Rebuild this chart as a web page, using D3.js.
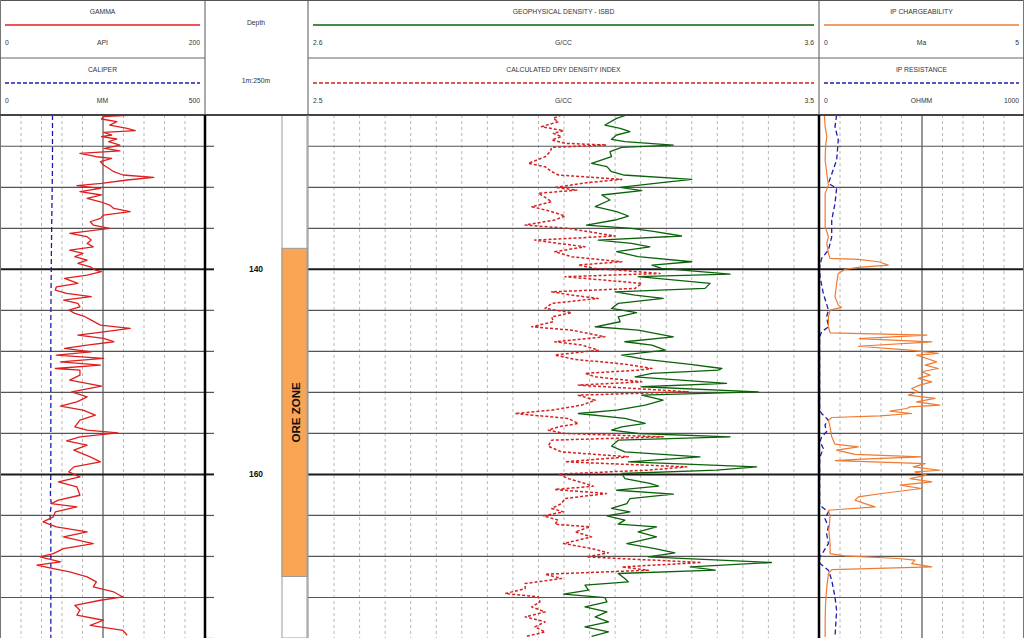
<!DOCTYPE html>
<html><head><meta charset="utf-8">
<script src="https://cdn.jsdelivr.net/npm/d3@7"></script>
<style>
html,body{margin:0;padding:0;background:#fff;}
svg{display:block;font-family:"Liberation Sans",Arial,sans-serif;}
</style></head><body>
<svg id="chart" width="1024" height="638"></svg>
<script>
// ---------------- DATA ----------------
const depthRange = [125, 176];
const gridDepths = [128,132,136,140,144,148,152,156,160,164,168,172,176];
const majorDepths = [140,160];
const oreZone = [138, 170];
const oreLabel = "ORE ZONE";
const depthTitle = "Depth";
const depthScaleLabel = "1m:250m";

const curveTitles = ["GAMMA","CALIPER","GEOPHYSICAL DENSITY - ISBD","CALCULATED DRY DENSITY INDEX","IP CHARGEABILITY","IP RESISTANCE"];
const curveUnits  = ["API","MM","G/CC","G/CC","Ma","OHMM"];
const curveMinLabels = ["0","0","2.6","2.5","0","0"];
const curveMaxLabels = ["200","500","3.6","3.5","5","1000"];
const gammaRange = [0,200], caliperRange = [0,500], isbdRange = [2.6,3.6], dryRange = [2.5,3.5], chargeRange = [0,5], resRange = [0,1000];

const gammaDepth = [125.00,125.16,125.39,125.65,125.98,126.30,126.53,126.69,126.95,127.11,127.34,127.60,127.93,128.25,128.50,128.74,129.07,129.23,129.55,129.88,130.20,130.53,130.85,131.08,131.34,131.67,131.89,132.15,132.48,132.80,133.13,133.46,133.78,134.11,134.43,134.76,135.08,135.41,135.73,136.06,136.54,136.87,137.20,137.52,137.85,138.17,138.50,138.82,139.15,139.47,139.80,140.12,140.28,140.61,140.93,141.42,141.75,142.07,142.40,142.72,143.05,143.37,143.70,144.02,144.35,144.67,145.00,145.49,145.81,146.14,146.46,146.79,147.11,147.44,147.76,148.09,148.41,148.74,149.07,149.39,149.72,149.88,150.37,150.86,151.44,151.99,152.48,152.97,153.39,153.78,154.27,154.76,155.41,155.73,155.99,156.38,156.77,157.20,157.68,158.34,158.82,159.31,159.80,160.29,160.77,161.26,162.08,162.56,162.89,163.21,163.70,164.19,164.68,165.16,165.65,166.14,166.79,167.28,167.77,168.09,168.58,168.90,169.23,169.56,170.04,170.53,171.02,171.51,172.00,172.32,172.81,173.29,173.78,174.27,174.76,175.25,175.73];
const gammaApi = [130,101,99,114,107,124,132,101,109,99,114,106,117,102,117,78,94,109,98,101,106,111,120,150,124,99,75,98,78,99,85,98,107,111,127,101,98,88,91,107,68,85,89,85,91,68,81,73,85,76,88,93,99,85,63,76,55,54,65,89,62,76,78,67,73,83,89,98,127,101,76,101,111,85,63,89,55,101,59,98,54,78,78,68,99,70,85,75,59,81,93,78,73,85,115,78,65,85,72,88,98,72,67,78,57,75,78,57,50,75,54,52,42,55,85,62,91,62,52,39,59,36,52,68,85,94,91,111,120,98,73,78,75,101,88,120,124];

const caliperDepth = [125,130,133,136,140,145,150,155,160,162,163,164,165,168,176];
const caliperMm = [128,128,127,126,125,124,124,124,124,123,125,122,124,124,124];

const isbdDepth = [125.00,125.33,125.98,126.30,126.63,126.95,127.37,127.60,127.93,128.15,128.58,129.07,129.72,130.04,130.53,130.85,131.28,131.67,132.06,132.38,132.80,133.29,133.94,134.43,134.85,135.24,135.73,136.06,136.38,136.80,137.20,137.52,137.85,138.33,138.82,139.31,139.63,139.96,140.51,140.77,141.42,141.91,142.24,142.56,142.89,143.37,143.86,144.28,144.68,145.16,145.65,145.98,146.63,147.11,147.44,147.93,148.41,148.84,149.29,149.72,149.88,150.20,150.53,151.18,151.50,151.99,152.32,152.81,153.29,153.78,154.11,154.59,155.08,155.41,155.73,156.06,156.38,156.71,157.29,157.85,158.33,158.82,159.31,159.63,159.96,160.45,160.93,161.20,161.59,161.98,162.40,162.89,163.37,163.70,164.09,164.51,164.90,165.16,165.65,166.14,166.79,167.28,167.70,168.09,168.64,169.07,169.39,169.71,170.20,170.53,170.85,171.34,171.73,172.06,172.48,172.97,173.46,173.94,174.43,174.92,175.41,175.83];
const isbdGcc = [3.224,3.204,3.181,3.211,3.230,3.204,3.194,3.220,3.315,3.214,3.191,3.194,3.155,3.185,3.194,3.217,3.351,3.279,3.211,3.253,3.175,3.191,3.162,3.204,3.227,3.201,3.145,3.233,3.279,3.331,3.168,3.233,3.269,3.204,3.246,3.351,3.273,3.292,3.426,3.246,3.387,3.377,3.201,3.240,3.295,3.207,3.194,3.243,3.207,3.211,3.162,3.246,3.315,3.220,3.273,3.299,3.214,3.260,3.344,3.410,3.403,3.273,3.240,3.419,3.253,3.481,3.253,3.295,3.260,3.204,3.129,3.220,3.260,3.214,3.194,3.246,3.426,3.207,3.194,3.220,3.367,3.227,3.478,3.400,3.214,3.220,3.269,3.286,3.204,3.315,3.230,3.224,3.194,3.230,3.185,3.220,3.207,3.282,3.246,3.282,3.224,3.279,3.318,3.266,3.507,3.348,3.397,3.207,3.220,3.227,3.142,3.149,3.100,3.181,3.185,3.142,3.185,3.162,3.188,3.142,3.188,3.155];

const dryDepth = [125.00,125.33,125.65,126.14,126.53,126.79,127.11,127.44,127.76,127.93,128.15,128.58,129.07,129.72,130.04,130.53,130.85,131.28,131.60,132.06,132.32,132.64,133.03,133.46,133.94,134.43,134.85,135.24,135.73,136.06,136.38,136.80,137.20,137.52,137.85,138.33,138.82,139.31,139.63,139.96,140.45,140.77,141.42,141.91,142.24,142.56,142.89,143.37,143.86,144.28,144.68,145.16,145.65,145.98,146.63,147.11,147.44,147.93,148.41,148.84,149.29,149.72,149.88,150.20,150.53,151.02,151.34,151.99,152.32,152.81,153.29,153.78,154.11,154.59,155.08,155.41,155.73,156.06,156.38,156.71,157.29,157.85,158.33,158.82,159.31,159.63,160.02,160.45,160.93,161.20,161.52,161.91,162.40,162.89,163.37,163.70,164.09,164.51,164.90,165.16,165.65,166.14,166.79,167.28,167.70,168.09,168.64,169.07,169.39,169.78,170.20,170.69,171.18,171.67,171.99,172.48,172.97,173.46,173.94,174.43,174.92,175.41,175.83];
const dryGcc = [2.996,2.980,2.990,2.957,3.000,2.980,2.996,2.977,3.003,3.084,2.977,2.974,2.964,2.931,2.964,2.977,2.990,3.114,3.045,2.983,3.026,2.951,2.964,2.977,2.938,2.977,3.003,2.983,2.925,3.009,3.049,3.101,2.944,2.990,3.042,2.983,3.016,3.114,3.029,3.062,3.189,3.003,3.153,3.140,2.977,3.016,3.068,2.977,2.964,3.016,2.977,2.980,2.938,3.016,3.081,2.983,3.036,3.068,2.983,3.023,3.120,3.173,3.146,3.042,3.062,3.153,3.029,3.244,3.029,3.062,3.036,2.977,2.905,3.009,3.029,2.990,2.970,3.003,3.195,2.977,2.970,2.996,3.127,3.003,3.241,3.166,2.990,3.009,3.042,3.058,2.983,3.084,3.003,2.996,2.977,3.000,2.961,2.990,2.983,3.052,3.023,3.055,3.000,3.055,3.088,3.045,3.270,3.114,3.166,2.964,2.996,2.925,2.925,2.886,2.951,2.954,2.938,2.964,2.925,2.964,2.944,2.964,2.928];

const chargeDepth = [125.00,126.14,127.11,128.09,129.39,131.02,131.83,132.64,134.27,135.89,136.87,137.52,138.50,138.98,139.08,139.31,139.63,139.86,140.06,140.45,141.42,142.72,143.54,143.76,144.02,144.68,145.65,146.24,146.47,146.80,147.12,147.55,147.93,148.25,148.42,148.74,149.07,149.39,149.72,150.04,150.37,150.69,151.02,151.34,151.67,151.99,152.32,152.64,152.97,153.29,153.46,153.62,153.88,154.11,154.34,154.50,154.76,155.41,156.38,157.10,157.36,157.68,158.10,158.34,158.55,158.70,158.99,159.31,159.64,159.80,160.12,160.45,160.77,161.10,161.42,161.91,162.24,162.56,162.89,163.21,163.54,164.19,165.49,166.79,167.77,167.99,168.25,168.41,168.74,169.07,169.33,169.72,171.02,172.64,174.27,175.90];
const chargeMa = [0.13,0.15,0.19,0.16,0.15,0.20,0.23,0.15,0.15,0.15,0.23,0.19,0.23,0.27,0.96,1.45,1.69,0.96,0.63,0.47,0.43,0.39,0.47,0.55,0.27,0.23,0.23,0.27,2.63,0.98,2.75,0.96,2.22,2.91,2.38,2.63,2.87,2.59,2.91,2.50,2.71,2.42,2.75,2.46,2.26,2.42,2.18,2.83,2.38,2.95,2.22,2.14,1.73,2.26,1.49,0.31,0.23,0.27,0.31,0.39,0.96,0.43,0.88,2.50,1.05,0.40,2.59,2.30,2.95,2.34,2.63,2.22,2.75,1.98,2.50,1.53,0.96,0.88,1.12,1.37,0.23,0.27,0.24,0.27,0.27,0.63,1.93,2.34,2.26,2.75,0.31,0.23,0.19,0.16,0.15,0.15];

const resDepth = [125.00,126.14,127.44,129.39,131.67,132.15,133.62,135.24,136.87,138.17,138.98,139.80,140.77,142.40,144.02,144.68,145.65,146.14,146.63,153.78,154.11,154.76,155.24,155.89,156.38,156.87,157.52,158.33,158.98,162.89,163.21,163.70,164.35,165.16,165.81,166.79,167.60,168.09,168.74,169.39,170.37,172.00,173.29,175.90];
const resOhmm = [86,78,94,86,46,86,78,62,62,46,13,3,5,21,46,37,46,13,3,3,13,46,29,37,13,5,21,5,3,3,13,46,29,46,37,46,21,3,5,46,62,78,86,78];

// ---------------- LAYOUT ----------------
const svg = d3.select("#chart");
const dataTop = 115, dataBottom = 638, headerMid = 58;
const T1 = [0,205], TD = [205,308], T3 = [308,819], T4 = [819,1024];
const yScale = d3.scaleLinear().domain(depthRange).range([dataTop, dataBottom]);

const xGamma = d3.scaleLinear().domain(gammaRange).range(T1);
const xCal = d3.scaleLinear().domain(caliperRange).range(T1);
const xIsbd = d3.scaleLinear().domain(isbdRange).range(T3);
const xDry = d3.scaleLinear().domain(dryRange).range(T3);
const xCharge = d3.scaleLinear().domain(chargeRange).range(T4);
const xRes = d3.scaleLinear().domain(resRange).range(T4);

const RED = "#e01e1e", GREEN = "#0b620b", DRED = "#d42222", ORANGE = "#f07a32", BLUE = "#1c1cae";

const defs = svg.append("defs");
[["c1",T1],["c3",T3],["c4",T4]].forEach(([id,r]) => {
  defs.append("clipPath").attr("id",id).append("rect")
    .attr("x",r[0]).attr("y",dataTop).attr("width",r[1]-r[0]).attr("height",dataBottom-dataTop);
});

// ---------------- GRID ----------------
function vgrid(range, n, solidMid){
  const s = d3.scaleLinear().domain([0,n]).range(range);
  const g = svg.append("g").attr("transform",`translate(0,${dataTop})`)
    .call(d3.axisBottom(s).tickValues(d3.range(1,n)).tickSize(dataBottom-dataTop).tickFormat(""));
  g.select(".domain").remove();
  g.selectAll(".tick line")
    .attr("stroke", d => (solidMid && d===n/2) ? "#333" : "#b8b8b8")
    .attr("stroke-width", 1)
    .attr("stroke-dasharray", d => (solidMid && d===n/2) ? null : "3,3");
}
vgrid(T1,10,true);
vgrid(T3,20,false);
vgrid(T4,10,true);

function hgrid(range){
  const g = svg.append("g").attr("transform",`translate(${range[0]},0)`)
    .call(d3.axisRight(yScale).tickValues(gridDepths).tickSize(range[1]-range[0]).tickFormat(""));
  g.select(".domain").remove();
  g.selectAll(".tick line")
    .attr("stroke", d => majorDepths.includes(d) ? "#1a1a1a" : "#555")
    .attr("stroke-width", d => majorDepths.includes(d) ? 2 : 1.2);
}
hgrid(T1); hgrid(T3); hgrid(T4);

const gd = svg.append("g").attr("transform",`translate(${TD[0]},0)`)
  .call(d3.axisRight(yScale).tickValues(gridDepths).tickSize(9).tickFormat(""));
gd.select(".domain").remove();
gd.selectAll(".tick line").attr("stroke", d => majorDepths.includes(d) ? "#1a1a1a" : "#555")
  .attr("stroke-width", d => majorDepths.includes(d) ? 2 : 1.2);

svg.append("g").selectAll("text").data(majorDepths).join("text")
  .attr("x", 256).attr("y", d => yScale(d)).attr("dy","0.35em")
  .attr("text-anchor","middle").attr("font-size","8.5px").attr("font-weight","bold").attr("fill","#111")
  .text(d => d);

// ore zone column
svg.append("rect").attr("x",282).attr("y",dataTop).attr("width",25).attr("height",dataBottom-dataTop)
  .attr("fill","#fff").attr("stroke","#9a9a9a").attr("stroke-width",1);
svg.append("rect").attr("x",282).attr("y",yScale(oreZone[0])).attr("width",25)
  .attr("height",yScale(oreZone[1])-yScale(oreZone[0]))
  .attr("fill","#f9a553").attr("stroke","#9a9a9a").attr("stroke-width",1);
svg.append("text")
  .attr("transform",`translate(295.5,${(yScale(oreZone[0])+yScale(oreZone[1]))/2}) rotate(-90)`)
  .attr("text-anchor","middle").attr("dy","0.35em").attr("font-size","11.5px").attr("font-weight","bold").attr("fill","#111")
  .text(oreLabel);

// ---------------- CURVES ----------------
function curve(depths, vals, xs, clip, color, width, dash){
  const pts = depths.map((d,i) => [d, vals[i]]);
  const line = d3.line().x(p => xs(p[1])).y(p => yScale(p[0]));
  svg.append("path").attr("clip-path",`url(#${clip})`).datum(pts)
    .attr("d", line).attr("fill","none").attr("stroke",color).attr("stroke-width",width)
    .attr("stroke-linejoin","round").attr("stroke-dasharray", dash || null);
}
curve(caliperDepth, caliperMm, xCal, "c1", BLUE, 1.3, "5,3");
curve(gammaDepth, gammaApi, xGamma, "c1", RED, 1.3);
curve(dryDepth, dryGcc, xDry, "c3", DRED, 1.5, "3,2");
curve(isbdDepth, isbdGcc, xIsbd, "c3", GREEN, 1.3);
curve(resDepth, resOhmm, xRes, "c4", BLUE, 1.3, "5,3");
curve(chargeDepth, chargeMa, xCharge, "c4", ORANGE, 1.2);

// ---------------- BORDERS ----------------
function vline(x, y0, y1, color, w){
  svg.append("line").attr("x1",x).attr("x2",x).attr("y1",y0).attr("y2",y1).attr("stroke",color).attr("stroke-width",w);
}
function hline(y, x0, x1, color, w){
  svg.append("line").attr("x1",x0).attr("x2",x1).attr("y1",y).attr("y2",y).attr("stroke",color).attr("stroke-width",w);
}
hline(0.5, 0, 1024, "#555", 1);
vline(0.5, 0, dataBottom, "#777", 1);
vline(1023.5, 0, dataBottom, "#777", 1);
vline(TD[0], 0, dataTop, "#555", 1);
vline(TD[1], 0, dataTop, "#555", 1);
vline(T3[1], 0, dataTop, "#555", 1);
hline(headerMid, T1[0], T1[1], "#666", 1);
hline(headerMid, T3[0], T3[1], "#666", 1);
hline(headerMid, T4[0], T4[1], "#666", 1);
hline(dataTop, 0, 1024, "#444", 2);
vline(TD[0], dataTop, dataBottom, "#000", 2.5);
vline(TD[1], dataTop, dataBottom, "#888", 1);
vline(T3[1], dataTop, dataBottom, "#000", 2.5);

// ---------------- HEADER ----------------
const headerSpecs = [
  {i:0, r:T1, row:0, color:RED, dash:null},
  {i:1, r:T1, row:1, color:BLUE, dash:"4,2"},
  {i:2, r:T3, row:0, color:GREEN, dash:null},
  {i:3, r:T3, row:1, color:DRED, dash:"4,2"},
  {i:4, r:T4, row:0, color:ORANGE, dash:null},
  {i:5, r:T4, row:1, color:BLUE, dash:"4,2"}
];
const hfs = "6.8px", hcol = "#333";
headerSpecs.forEach(s => {
  const oy = s.row * headerMid;
  const x0 = s.r[0] + 5, x1 = s.r[1] - 5, xc = (s.r[0]+s.r[1])/2;
  svg.append("text").attr("x",xc).attr("y",oy+12).attr("dy","0.35em").attr("text-anchor","middle")
    .attr("font-size",hfs).attr("fill",hcol).text(curveTitles[s.i]);
  svg.append("line").attr("x1",x0).attr("x2",x1).attr("y1",oy+25).attr("y2",oy+25)
    .attr("stroke",s.color).attr("stroke-width",1.5).attr("stroke-dasharray",s.dash);
  svg.append("text").attr("x",x0).attr("y",oy+43).attr("dy","0.35em").attr("text-anchor","start")
    .attr("font-size",hfs).attr("fill",hcol).text(curveMinLabels[s.i]);
  svg.append("text").attr("x",xc).attr("y",oy+43).attr("dy","0.35em").attr("text-anchor","middle")
    .attr("font-size",hfs).attr("fill",hcol).text(curveUnits[s.i]);
  svg.append("text").attr("x",x1).attr("y",oy+43).attr("dy","0.35em").attr("text-anchor","end")
    .attr("font-size",hfs).attr("fill",hcol).text(curveMaxLabels[s.i]);
});
svg.append("text").attr("x",256).attr("y",23).attr("dy","0.35em").attr("text-anchor","middle")
  .attr("font-size",hfs).attr("fill",hcol).text(depthTitle);
svg.append("text").attr("x",256).attr("y",81).attr("dy","0.35em").attr("text-anchor","middle")
  .attr("font-size",hfs).attr("fill",hcol).text(depthScaleLabel);
</script>
</body></html>
